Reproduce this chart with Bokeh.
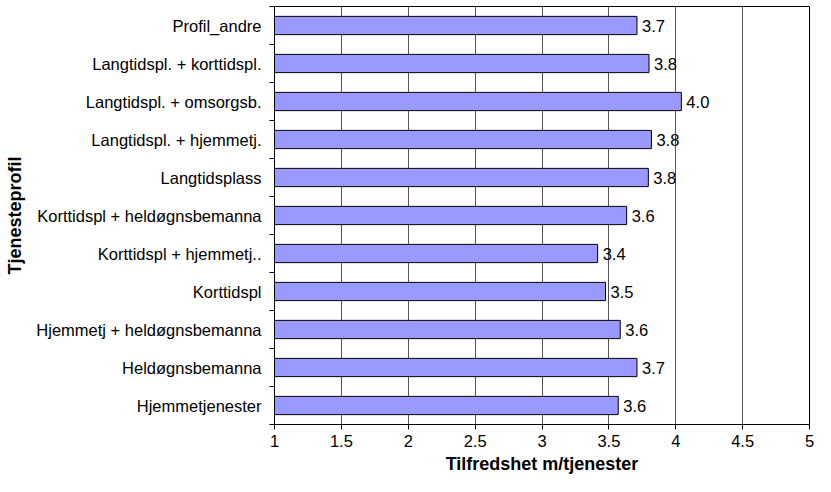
from bokeh.plotting import figure
from bokeh.models import Range1d, FixedTicker
from bokeh.core.properties import value
from bokeh.embed import file_html
from bokeh.resources import INLINE

# Data (bottom to top)
categories = [
    "Hjemmetjenester",
    "Heldøgnsbemanna",
    "Hjemmetj + heldøgnsbemanna",
    "Korttidspl",
    "Korttidspl + hjemmetj..",
    "Korttidspl + heldøgnsbemanna",
    "Langtidsplass",
    "Langtidspl. + hjemmetj.",
    "Langtidspl. + omsorgsb.",
    "Langtidspl. + korttidspl.",
    "Profil_andre",
]
scores = [3.57, 3.71, 3.585, 3.475, 3.416, 3.633, 3.795, 3.818, 4.042, 3.80, 3.71]
x_ticks = [1, 1.5, 2, 2.5, 3, 3.5, 4, 4.5, 5]
x_title = "Tilfredshet m/tjenester"
y_title = "Tjenesteprofil"

FONT = "Liberation Sans"

positions = [i + 0.5 for i in range(len(categories))]
boundaries = list(range(len(categories) + 1))
score_labels = [f"{v:.1f}" for v in scores]

p = figure(
    width=815, height=476,
    x_range=Range1d(x_ticks[0], x_ticks[-1]),
    y_range=Range1d(0, len(categories)),
    output_backend="svg", toolbar_location=None,
    min_border_top=6, min_border_right=6, min_border_bottom=52, min_border_left=274,
)

p.hbar(y=positions, left=x_ticks[0], right=scores, height=0.48,
       fill_color="#9999FF", line_color="black", line_width=1)
p.text(x=scores, y=positions, text=score_labels, x_offset=5,
       text_baseline="middle", text_align="left",
       text_font=value(FONT), text_font_size="16.5px", text_color="black")

# x axis
p.xaxis.ticker = FixedTicker(ticks=x_ticks)
p.xaxis.major_label_overrides = {t: f"{t:g}" for t in x_ticks}
p.xaxis.major_tick_out = 5
p.xaxis.major_tick_in = 0
p.xaxis.minor_tick_line_color = None
p.xaxis.major_label_standoff = 5
p.xaxis.axis_label = x_title
p.xaxis.axis_label_standoff = 4
p.xaxis.axis_line_color = "black"
p.xaxis.major_tick_line_color = "black"

# y axis
p.yaxis.ticker = FixedTicker(ticks=positions, minor_ticks=boundaries)
p.yaxis.major_label_overrides = {pos: c for pos, c in zip(positions, categories)}
p.yaxis.major_tick_out = 0
p.yaxis.major_tick_in = 0
p.yaxis.minor_tick_out = 5
p.yaxis.minor_tick_in = 0
p.yaxis.minor_tick_line_color = "black"
p.yaxis.major_label_standoff = 8
p.yaxis.axis_label = y_title
p.yaxis.axis_label_standoff = 8
p.yaxis.axis_line_color = "black"

for ax in (p.xaxis, p.yaxis):
    ax.major_label_text_font = FONT
    ax.major_label_text_font_size = "16.5px"
    ax.major_label_text_color = "black"
    ax.axis_label_text_font = FONT
    ax.axis_label_text_font_size = "18px"
    ax.axis_label_text_font_style = "bold"
    ax.axis_label_text_color = "black"

p.xgrid.ticker = FixedTicker(ticks=x_ticks)
p.xgrid.grid_line_color = "#555555"
p.xgrid.grid_line_width = 1
p.ygrid.grid_line_color = None

p.outline_line_color = "black"
p.outline_line_width = 1
p.background_fill_color = "white"
p.border_fill_color = "white"

open("out.html", "w").write(file_html(p, INLINE))
